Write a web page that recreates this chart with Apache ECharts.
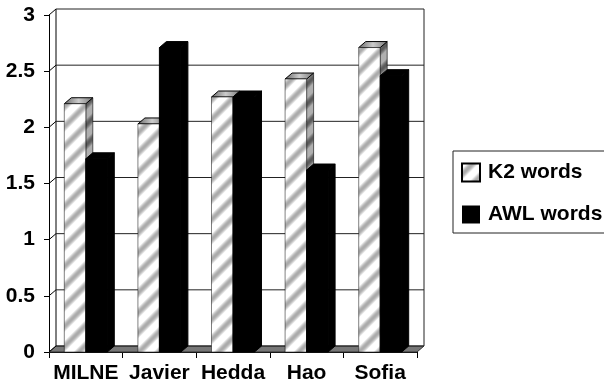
<!DOCTYPE html>
<html>
<head>
<meta charset="utf-8">
<style>html,body{margin:0;padding:0;background:#fff}#chart{width:604px;height:386px}</style>
<script src="https://cdn.jsdelivr.net/npm/echarts@6/dist/echarts.min.js"></script>
</head>
<body>
<div id="chart"></div>
<script>
const students = ['MILNE', 'Javier', 'Hedda', 'Hao', 'Sofia'];
const k2Words = [2.21, 2.03, 2.27, 2.43, 2.71];
const awlWords = [1.72, 2.71, 2.27, 1.62, 2.46];
const yTicks = [0, 0.5, 1, 1.5, 2, 2.5, 3];

const depthX = 7;
const depthY = -6;
const font = '"Liberation Sans", Arial, sans-serif';

// 斜条纹贴图
const makeStripes = (light, dark) => {
  const size = 20;
  const canvas = document.createElement('canvas');
  canvas.width = size;
  canvas.height = size;
  const ctx = canvas.getContext('2d');
  const img = ctx.createImageData(size, size);
  for (let y = 0; y < size; y++) {
    for (let x = 0; x < size; x++) {
      const t = (Math.cos((x + y) / size * Math.PI * 2) + 1) / 2;
      const v = Math.min(255, Math.round(dark + (light - dark) * Math.min(1, t * 1.5)));
      const i = (y * size + x) * 4;
      img.data[i] = v;
      img.data[i + 1] = v;
      img.data[i + 2] = v;
      img.data[i + 3] = 255;
    }
  }
  ctx.putImageData(img, 0, 0);
  return { image: canvas, repeat: 'repeat' };
};

const frontFill = makeStripes(255, 170);
const sideFill = makeStripes(175, 90);
const topFill = {
  type: 'linear', x: 0, y: 0, x2: 1, y2: 0,
  colorStops: [{ offset: 0, color: '#666' }, { offset: 0.5, color: '#ccc' }, { offset: 1, color: '#777' }]
};

const poly = (points, style) => ({ type: 'polygon', shape: { points }, style });

// 背景墙、网格线和斜刻度
const renderWall = (params, api) => {
  const g = params.coordSys;
  const y = api.coord([0, api.value(0)])[1];
  const children = [{
    type: 'line',
    shape: { x1: g.x, y1: y, x2: g.x + depthX, y2: y + depthY },
    style: { stroke: '#000', lineWidth: 1 }
  }, {
    type: 'line',
    shape: { x1: g.x + depthX, y1: y + depthY, x2: g.x + g.width + depthX, y2: y + depthY },
    style: { stroke: '#222', lineWidth: 1 }
  }];
  if (api.value(0) === 0) {
    children.unshift(poly([
      [g.x, y], [g.x + depthX, y + depthY], [g.x + g.width + depthX, y + depthY], [g.x + g.width, y]
    ], { fill: '#777', stroke: '#333', lineWidth: 1 }));
    children.push({
      type: 'line',
      shape: { x1: g.x + depthX, y1: y + depthY, x2: g.x + depthX, y2: g.y + depthY },
      style: { stroke: '#000', lineWidth: 1 }
    }, {
      type: 'line',
      shape: { x1: g.x + g.width + depthX, y1: y + depthY, x2: g.x + g.width + depthX, y2: g.y + depthY },
      style: { stroke: '#222', lineWidth: 1 }
    });
  }
  return { type: 'group', children };
};

const renderBar = (side, front, sideColor, topColor) => (params, api) => {
  const p = api.coord([api.value(0), api.value(1)]);
  const base = api.coord([api.value(0), 0])[1];
  const w = api.size([1, 0])[0] * 0.292;
  const x0 = side === 0 ? p[0] - w : p[0];
  const x1 = x0 + w;
  const top = p[1];
  return {
    type: 'group',
    children: [
      poly([[x1, top], [x1 + depthX, top + depthY], [x1 + depthX, base + depthY], [x1, base]],
        { fill: sideColor, stroke: '#000', lineWidth: side === 0 ? 0.6 : 1 }),
      poly([[x0, top], [x0 + depthX, top + depthY], [x1 + depthX, top + depthY], [x1, top]],
        { fill: topColor, stroke: '#000', lineWidth: 1 }),
      { type: 'rect', shape: { x: x0, y: top, width: w, height: base - top },
        style: { fill: front, stroke: '#000', lineWidth: side === 0 ? 0.5 : 1 } }
    ]
  };
};

const chart = echarts.init(document.getElementById('chart'), null, { renderer: 'canvas' });
chart.setOption({
  animation: false,
  backgroundColor: '#fff',
  grid: { left: 49, right: 187, top: 15, bottom: 34 },
  legend: {
    left: 453,
    top: 151,
    orient: 'vertical',
    icon: 'rect',
    data: ['K2 words', 'AWL words'],
    itemWidth: 18,
    itemHeight: 18,
    itemGap: 21,
    padding: [11, 12, 8, 8],
    borderColor: '#222',
    borderWidth: 1,
    textStyle: { fontFamily: font, fontWeight: 'bold', fontSize: 21, color: '#000', padding: [4, 0, 0, 3] }
  },
  xAxis: {
    type: 'category',
    data: students,
    axisLine: { lineStyle: { color: '#000', width: 1 } },
    axisTick: { show: true, length: 6, lineStyle: { color: '#000' } },
    axisLabel: { interval: 0, fontFamily: font, fontWeight: 'bold', fontSize: 21, color: '#000', margin: 11 }
  },
  yAxis: {
    type: 'value',
    min: 0,
    max: 3,
    interval: 0.5,
    splitLine: { show: false },
    axisLine: { show: true, lineStyle: { color: '#000', width: 1 } },
    axisTick: { show: true, length: 5, lineStyle: { color: '#000' } },
    axisLabel: { fontFamily: font, fontWeight: 'bold', fontSize: 21, color: '#000', margin: 14 }
  },
  series: [
    {
      name: 'wall',
      type: 'custom',
      coordinateSystem: 'cartesian2d',
      renderItem: renderWall,
      data: yTicks.map((v) => [v]),
      encode: { y: 0 },
      silent: true,
      z: 1
    },
    {
      name: 'K2 words',
      type: 'custom',
      renderItem: renderBar(0, frontFill, sideFill, topFill),
      data: k2Words.map((v, i) => [i, v]),
      encode: { x: 0, y: 1 },
      itemStyle: { color: frontFill, borderColor: '#000', borderWidth: 1 },
      z: 2
    },
    {
      name: 'AWL words',
      type: 'custom',
      renderItem: renderBar(1, '#000', '#000', '#000'),
      data: awlWords.map((v, i) => [i, v]),
      encode: { x: 0, y: 1 },
      itemStyle: { color: '#000' },
      z: 3
    }
  ]
});
</script>
</body>
</html>
